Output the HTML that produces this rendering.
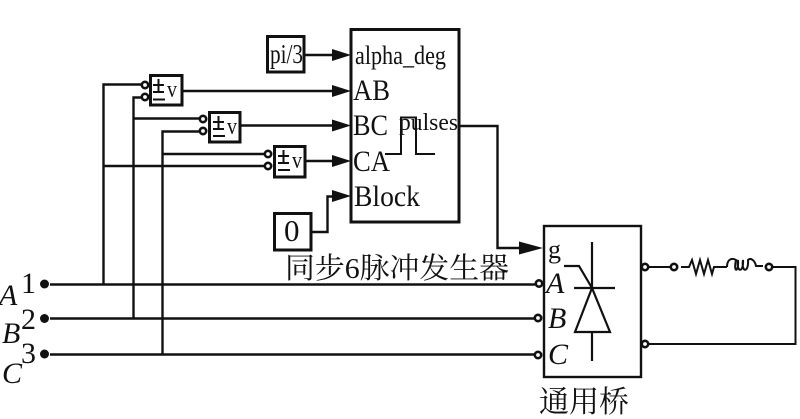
<!DOCTYPE html>
<html>
<head>
<meta charset="utf-8">
<style>
html,body{margin:0;padding:0;background:#fff;width:800px;height:419px;overflow:hidden}
svg{display:block}
text{font-family:"Liberation Serif","Noto Serif CJK SC",serif;fill:#111}
.cjk{font-family:"Liberation Serif","Noto Serif CJK SC",serif}
</style>
</head>
<body>
<svg width="800" height="419" viewBox="0 0 800 419" xmlns="http://www.w3.org/2000/svg">
<g fill="none" stroke="#111" stroke-width="2.400">
  <!-- blocks -->
  <rect x="267.500" y="36.500" width="36.500" height="35.500" stroke-width="3"/>
  <rect x="351" y="29.500" width="108" height="192.500" stroke-width="3"/>
  <rect x="150.500" y="75.500" width="31.500" height="29.500" stroke-width="3"/>
  <rect x="209.500" y="112.500" width="30.500" height="29.500" stroke-width="3"/>
  <rect x="274.500" y="146.500" width="30.500" height="30.500" stroke-width="3"/>
  <rect x="274.500" y="213.500" width="36.500" height="36.500" stroke-width="3"/>
  <rect x="544" y="226" width="97" height="151" stroke-width="2.400"/>

  <!-- rails -->
  <path d="M50 284.500H535M50 318.500H534M50 354.500H534"/>
  <!-- taps -->
  <path d="M103.500 284.500V84.500H141M133.500 318.500V97.500H141M133.500 118.500H199M162.500 354.500V131.500H199M162.500 154H264M103.500 166H264"/>
  <!-- to pulse generator -->
  <path d="M182 91H345M240 125.500H345M305 161H345M304 55H345M311 232H327.500V196.500H345"/>
  <!-- pulses out -->
  <path d="M459 126H497.500V248H530"/>
  <!-- pulse glyph -->
  <path d="M385 154H401V117.500H416V154H435" stroke-width="2"/>
  <!-- thyristor -->
  <path d="M592 242V288M574 288H615M592 332V361M564 266H579L592 288M592 288L575 332H610Z" stroke-width="2.200"/>
  <!-- load -->
  <path d="M649 267H670M681 267H689L692 260L696 274L700 260L704 274L708 260L712 274L714 267H727" stroke-width="2"/>
  <path d="M727 267C727 258 733 258 736 260C733 273 739 273 738 260C736 273 744 273 743 260C741 273 749 273 748 260C751 257 755 261 756 266H763M773 267H795.500V344H649" stroke-width="2"/>

  <!-- open circles -->
  <g stroke-width="2.600" fill="#fff">
    <circle cx="145" cy="85" r="3.200"/>
    <circle cx="145" cy="97" r="3.200"/>
    <circle cx="203" cy="119" r="3.200"/>
    <circle cx="203" cy="131" r="3.200"/>
    <circle cx="268" cy="154" r="3.200"/>
    <circle cx="268" cy="166" r="3.200"/>
    <circle cx="539" cy="283.500" r="3.200"/>
    <circle cx="538" cy="318" r="3.200"/>
    <circle cx="538" cy="355" r="3.200"/>
    <circle cx="645" cy="267" r="3.200"/>
    <circle cx="645" cy="344" r="3.200"/>
    <circle cx="674" cy="267" r="3.200"/>
    <circle cx="769" cy="267" r="3.200"/>
  </g>

  <!-- plus-minus -->
  <path d="M153 85H164M158.500 79V91M153 92H164M153 99.500H165" stroke-width="2"/>
  <path d="M213 122H224M218.500 116V128M213 129H224M213 136H225" stroke-width="2"/>
  <path d="M278 156H289M283.500 150V162M278 163H289M278 170H290" stroke-width="2"/>
</g>

<!-- solid dots -->
<g fill="#111">
  <circle cx="44.500" cy="284" r="4.500"/>
  <circle cx="44.500" cy="318.500" r="4.500"/>
  <circle cx="44.500" cy="354" r="4.500"/>
  <!-- arrowheads -->
  <path d="M332 85L351 91L332 97Z"/>
  <path d="M332 119.500L351 125.500L332 131.500Z"/>
  <path d="M332 155L351 161L332 167Z"/>
  <path d="M332 49L351 55L332 61Z"/>
  <path d="M332 190L351 196L332 202Z"/>
  <path d="M519 241.500L543 248L519 254.500Z"/>
</g>

<!-- labels -->
<text x="270" y="63" font-size="27" textLength="33" lengthAdjust="spacingAndGlyphs">pi/3</text>
<text x="355" y="64" font-size="26" textLength="91" lengthAdjust="spacingAndGlyphs">alpha_deg</text>
<text x="353" y="100" font-size="30" textLength="37" lengthAdjust="spacingAndGlyphs">AB</text>
<text x="353" y="135" font-size="30" textLength="35" lengthAdjust="spacingAndGlyphs">BC</text>
<text x="353" y="171" font-size="30" textLength="37" lengthAdjust="spacingAndGlyphs">CA</text>
<text x="354" y="206" font-size="30" textLength="66" lengthAdjust="spacingAndGlyphs">Block</text>
<text x="399" y="130" font-size="24" textLength="59" lengthAdjust="spacingAndGlyphs">pulses</text>
<text x="284" y="241" font-size="31">0</text>
<text x="167" y="97" font-size="24" textLength="10" lengthAdjust="spacingAndGlyphs">v</text>
<text x="227" y="134" font-size="24" textLength="10" lengthAdjust="spacingAndGlyphs">v</text>
<text x="292" y="168" font-size="24" textLength="10" lengthAdjust="spacingAndGlyphs">v</text>
<text class="cjk" x="285" y="278" font-size="29" textLength="224" lengthAdjust="spacingAndGlyphs">同步6脉冲发生器</text>
<text class="cjk" x="539" y="412" font-size="30" textLength="90" lengthAdjust="spacingAndGlyphs">通用桥</text>
<text x="548" y="258" font-size="26">g</text>
<g font-style="italic" font-size="30">
  <text x="546" y="293">A</text>
  <text x="548" y="328">B</text>
  <text x="548" y="364">C</text>
  <text x="-1" y="305">A</text>
  <text x="2" y="343">B</text>
  <text x="2" y="383">C</text>
</g>
<g font-size="30">
  <text x="21" y="293">1</text>
  <text x="21" y="329">2</text>
  <text x="21" y="363">3</text>
</g>
</svg>
</body>
</html>
